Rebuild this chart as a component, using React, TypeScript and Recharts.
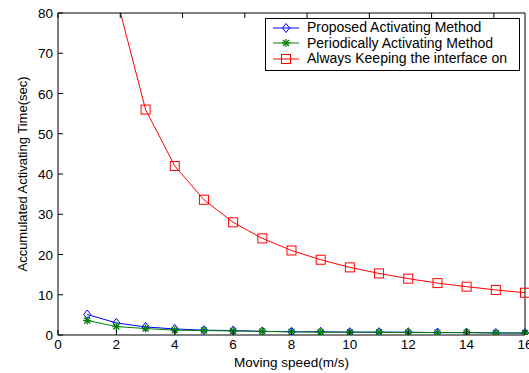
import { LineChart, Line, XAxis, YAxis, Legend } from 'recharts'

// moving speed (m/s)
const speeds = [1, 2, 3, 4, 5, 6, 7, 8, 9, 10, 11, 12, 13, 14, 15, 16]
// accumulated activating time (sec)
const proposed = [5.1, 3.0, 2.0, 1.5, 1.2, 1.1, 0.9, 0.8, 0.8, 0.7, 0.7, 0.7, 0.6, 0.6, 0.5, 0.5]
const periodic = [3.6, 2.1, 1.6, 1.2, 1.1, 1.0, 0.9, 0.8, 0.7, 0.7, 0.7, 0.6, 0.6, 0.6, 0.5, 0.5]
const alwaysOn = [168, 84, 56, 42, 33.6, 28, 24, 21, 18.7, 16.8, 15.3, 14, 12.9, 12, 11.2, 10.5]

const xTicks = [0, 2, 4, 6, 8, 10, 12, 14, 16]
const yTicks = [0, 10, 20, 30, 40, 50, 60, 70, 80]

const names = ['Proposed Activating Method', 'Periodically Activating Method', 'Always Keeping the interface on']

const data = speeds.map((s, i) => ({ speed: s, proposed: proposed[i], periodic: periodic[i], always: alwaysOn[i] }))

const BLUE = '#0000ff'
const GREEN = '#008000'
const RED = '#ff0000'
const FONT = '"Liberation Sans", Arial, sans-serif'

// markers
const diamond = (cx: number, cy: number, k?: any) => (
  <polygon key={k} points={`${cx},${cy - 4.5} ${cx + 3.5},${cy} ${cx},${cy + 4.5} ${cx - 3.5},${cy}`} fill="none" stroke={BLUE} strokeWidth={1} />
)
const star = (cx: number, cy: number, k?: any) => (
  <g key={k} stroke={GREEN} strokeWidth={1.3}>
    <line x1={cx - 4} x2={cx + 4} y1={cy} y2={cy} />
    <line x1={cx} x2={cx} y1={cy - 4} y2={cy + 4} />
    <line x1={cx - 3} x2={cx + 3} y1={cy - 3} y2={cy + 3} />
    <line x1={cx - 3} x2={cx + 3} y1={cy + 3} y2={cy - 3} />
  </g>
)
const square = (cx: number, cy: number, k?: any) => (
  <rect key={k} x={cx - 4.5} y={cy - 4.5} width={9} height={9} fill="none" stroke={RED} strokeWidth={1} />
)

const markers = [diamond, star, square]
const colors = [BLUE, GREEN, RED]

const BottomTick = ({ x, y, payload }: any) => (
  <g>
    <line x1={x} x2={x} y1={y} y2={y - 5} stroke="#000" />
    <text x={x} y={y + 13.5} textAnchor="middle" fontSize={13.5} fill="#000">{payload.value}</text>
  </g>
)
const LeftTick = ({ x, y, payload }: any) => (
  <g>
    <line x1={x} x2={x + 5} y1={y} y2={y} stroke="#000" />
    <text x={x - 5} y={y + 5} textAnchor="end" fontSize={13.5} fill="#000">{payload.value}</text>
  </g>
)
const TopTick = ({ x, y }: any) => <line x1={x} x2={x} y1={y} y2={y + 5} stroke="#000" />
const RightTick = ({ x, y }: any) => <line x1={x} x2={x - 5} y1={y} y2={y} stroke="#000" />

const LegendBox = () => (
  <div style={{ border: '1px solid #000', background: '#fff', padding: '1px 6px 3px 7px', fontSize: 14, lineHeight: '15.5px', fontFamily: FONT, color: '#000' }}>
    {names.map((n, i) => (
      <div key={n} style={{ display: 'flex', alignItems: 'center', height: 15.5 }}>
        <svg width={26} height={12} style={{ marginRight: 8 }}>
          <line x1={0} x2={26} y1={6} y2={6} stroke={colors[i]} />
          {markers[i](13, 6)}
        </svg>
        <span>{n}</span>
      </div>
    ))}
  </div>
)

export default function App() {
  return (
    <div style={{ position: 'absolute', left: 0, top: 0, width: 529, height: 373, background: '#fff' }}>
      <LineChart width={529} height={373} data={data} margin={{ top: 0, right: 0, bottom: 0, left: 0 }} style={{ fontFamily: FONT }}>
        <XAxis dataKey="speed" type="number" domain={[0, 16]} ticks={xTicks} interval={0} height={38} tickSize={0} tickMargin={0}
          axisLine={{ stroke: '#555', strokeWidth: 1.5 }} tickLine={false} tick={<BottomTick />}
          label={{ value: 'Moving speed(m/s)', position: 'insideBottom', offset: 6, fontSize: 13.5, fill: '#000' }} />
        <XAxis xAxisId="t" orientation="top" type="number" domain={[0, 16]} ticks={xTicks} interval={0} height={13} tickSize={0} tickMargin={0}
          axisLine={{ stroke: '#000' }} tickLine={false} tick={<TopTick />} />
        <YAxis type="number" domain={[0, 80]} ticks={yTicks} interval={0} allowDataOverflow width={58} tickSize={0} tickMargin={0}
          axisLine={{ stroke: '#555', strokeWidth: 1.5 }} tickLine={false} tick={<LeftTick />}
          label={{ value: 'Accumulated Activating Time(sec)', angle: -90, position: 'center', dx: -7, fontSize: 13, fill: '#000' }} />
        <YAxis yAxisId="r" orientation="right" type="number" domain={[0, 80]} ticks={yTicks} interval={0} width={4} tickSize={0} tickMargin={0}
          axisLine={{ stroke: '#000' }} tickLine={false} tick={<RightTick />} />
        <Legend layout="vertical" align="center" verticalAlign="middle" content={<LegendBox />}
          wrapperStyle={{ left: 265, top: 18, width: 255, height: 'auto' }} />
        <Line dataKey="proposed" name={names[0]} stroke={BLUE} strokeWidth={1} isAnimationActive={false}
          dot={(p: any) => diamond(p.cx, p.cy, p.index)} activeDot={false} />
        <Line dataKey="periodic" name={names[1]} stroke={GREEN} strokeWidth={1} isAnimationActive={false}
          dot={(p: any) => star(p.cx, p.cy, p.index)} activeDot={false} />
        <Line dataKey="always" name={names[2]} stroke={RED} strokeWidth={1} isAnimationActive={false}
          dot={(p: any) => square(p.cx, p.cy, p.index)} activeDot={false} />
      </LineChart>
    </div>
  )
}
